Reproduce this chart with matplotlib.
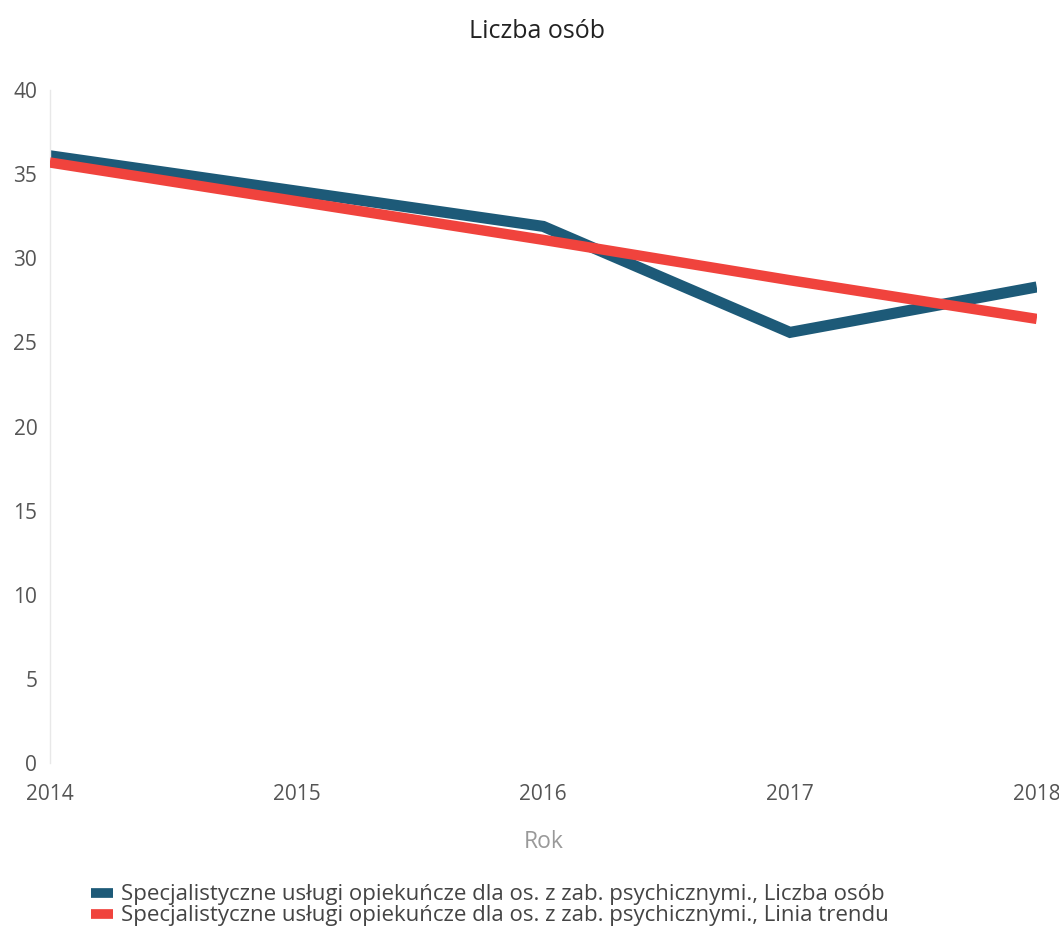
import matplotlib
matplotlib.use("Agg")
import matplotlib.pyplot as plt

years = [2014, 2015, 2016, 2017, 2018]
liczba_osob = [36.1, 34.0, 31.9, 25.6, 28.3]
linia_trendu = [35.7, 33.4, 31.1, 28.7, 26.4]
yticks = [0, 5, 10, 15, 20, 25, 30, 35, 40]
label_a = "Specjalistyczne usługi opiekuńcze dla os. z zab. psychicznymi., Liczba osób"
label_b = "Specjalistyczne usługi opiekuńcze dla os. z zab. psychicznymi., Linia trendu"

plt.rcParams['font.family'] = ['Open Sans', 'DejaVu Sans']

fig = plt.figure(figsize=(10.59, 9.39), dpi=100)
ax = fig.add_axes([0.047, 0.1874, 0.932, 0.7166])

blue = "#1d5a78"
red = "#f0433d"
ax.plot(years, liczba_osob, color=blue, lw=8, solid_capstyle='butt', solid_joinstyle='miter', label=label_a, zorder=2)
ax.plot(years, linia_trendu, color=red, lw=7.5, solid_capstyle='butt', label=label_b, zorder=3)

ax.set_xlim(2014, 2018)
ax.set_ylim(0, 40)
ax.set_yticks(yticks)
ax.set_xticks(years)
for s in ["top", "right", "bottom"]:
    ax.spines[s].set_visible(False)
ax.spines["left"].set_color("#e8e8e8")
ax.spines["left"].set_linewidth(1.0)
ax.tick_params(axis="both", length=0, labelsize=15, labelcolor="#555555")
ax.tick_params(axis="y", pad=9)
ax.tick_params(axis="x", pad=15)

fig.text(0.507, 0.966, "Liczba osób", fontsize=18, color="#222222", ha="center", va="center")
ax.set_xlabel("Rok", fontsize=16.5, color="#999999", labelpad=18)

leg = fig.legend(loc="upper left", bbox_to_anchor=(0.078, 0.068), frameon=False,
                 fontsize=16, handlelength=0.95, handleheight=0.5, handletextpad=0.4,
                 labelspacing=0.0, borderaxespad=0)
for h in leg.legend_handles:
    h.set_linewidth(7)
for t in leg.get_texts():
    t.set_color("#444444")

fig.savefig("out.png", dpi=100, facecolor="white")
